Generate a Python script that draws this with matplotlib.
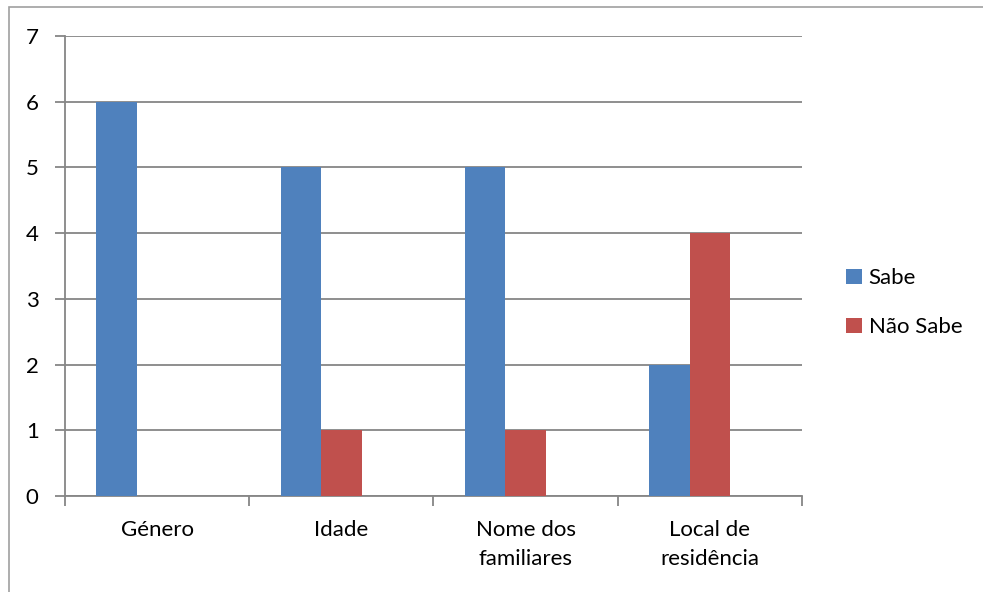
import numpy as np
import matplotlib.pyplot as plt
from matplotlib.patches import Rectangle

# dados do gráfico
categorias = ["Género", "Idade", "Nome dos\nfamiliares", "Local de\nresidência"]
sabe = [6, 5, 5, 2]
nao_sabe = [0, 1, 1, 4]

azul = "#4F81BD"
vermelho = "#C0504D"
cinza = "#868686"

plt.rcParams['font.family'] = ['Lato', 'DejaVu Sans']

fig = plt.figure(figsize=(9.83, 5.92), dpi=100)
ax = fig.add_axes([65/983, 1 - 496/592, (802-65)/983, (496-36)/592])

# moldura exterior (recortada à direita e em baixo)
fig.patches.append(Rectangle((9/983, -0.1), 1.2, (592-7)/592 + 0.1, transform=fig.transFigure,
                             fill=False, edgecolor="#A0A0A0", linewidth=1.2))

x = np.arange(len(categorias))
w = 40.5 / 184.25
ax.bar(x - w, sabe, w, color=azul, label="Sabe", zorder=3)
ax.bar(x, nao_sabe, w, color=vermelho, label="Não Sabe", zorder=3)

ax.set_xlim(-0.5, len(categorias) - 0.5)
ax.set_ylim(0, 7)
ax.set_yticks(range(0, 8))
ax.yaxis.grid(True, color=cinza, linewidth=1.3, zorder=0)
ax.set_xticks(x)
ax.set_xticklabels(categorias, fontsize=16, linespacing=1.6)
ax.set_xticks(np.arange(-0.5, len(categorias)), minor=True)
ax.tick_params(axis='x', which='major', length=0, pad=17)
ax.tick_params(axis='x', which='minor', length=7, color=cinza, width=1.3)
ax.tick_params(axis='y', length=7, color=cinza, width=1.3, labelsize=16, pad=12)

for s in ['top', 'right']:
    ax.spines[s].set_visible(False)
for s in ['left', 'bottom']:
    ax.spines[s].set_color(cinza)
    ax.spines[s].set_linewidth(1.3)

ax.legend(loc='center left', bbox_to_anchor=(1.033, 0.42), frameon=False, fontsize=16,
          handlelength=0.7, handleheight=0.7, handletextpad=0.3, labelspacing=1.3)

fig.savefig("out.png", dpi=100)
